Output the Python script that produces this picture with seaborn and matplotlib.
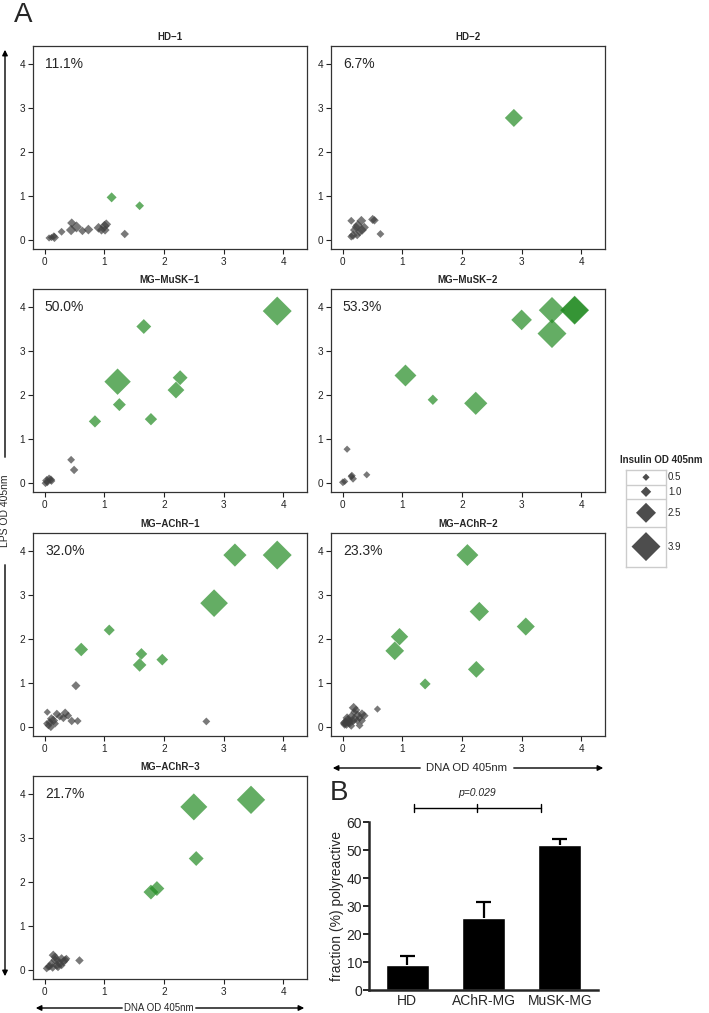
"""Polyreactivity of antibodies: LPS vs DNA ELISA scatter panels (A) and group fractions (B)."""
import matplotlib

matplotlib.use("Agg")
import matplotlib.pyplot as plt
from matplotlib.patches import FancyArrowPatch
import numpy as np
import pandas as pd
import seaborn as sns

sns.set_theme(style="ticks")
plt.rcParams["font.family"] = ["Liberation Sans", "DejaVu Sans"]

# ---- data: DNA OD, LPS OD, insulin OD, polyreactive flag (one entry per antibody)
HD1_DNA = [0.07, 0.11, 0.16, 0.15, 0.28, 0.44, 0.45, 0.53, 0.63, 0.73, 0.90, 0.95, 1.00, 1.01, 1.03, 1.34, 1.12, 1.59]
HD1_LPS = [0.05, 0.06, 0.06, 0.09, 0.19, 0.23, 0.39, 0.30, 0.21, 0.24, 0.28, 0.23, 0.32, 0.23, 0.36, 0.14, 0.97, 0.78]
HD1_INS = [0.5, 0.5, 0.8, 0.6, 0.6, 1.0, 0.8, 1.1, 0.7, 0.9, 0.9, 0.8, 1.0, 0.8, 0.9, 0.7, 0.94, 0.75]
HD1_POLY = [0] * 16 + [1] * 2

HD2_DNA = [0.14, 0.31, 0.50, 0.53, 0.25, 0.36, 0.19, 0.32, 0.17, 0.24, 0.14, 0.63, 0.28, 0.22, 2.87]
HD2_LPS = [0.44, 0.44, 0.47, 0.45, 0.34, 0.29, 0.23, 0.23, 0.11, 0.11, 0.08, 0.14, 0.19, 0.30, 2.77]
HD2_INS = [0.6, 0.9, 0.8, 0.7, 0.9, 0.8, 0.7, 0.9, 0.8, 0.6, 0.6, 0.6, 0.8, 0.7, 2.2]
HD2_POLY = [0] * 14 + [1]

MUSK1_DNA = [0.44, 0.49, 0.03, 0.10, 0.04, 0.07, 0.01, 0.11, 3.90, 1.66, 1.22, 2.27, 2.20, 1.25, 1.78, 0.84]
MUSK1_LPS = [0.53, 0.30, 0.06, 0.08, 0.02, 0.10, 0.00, 0.05, 3.90, 3.55, 2.30, 2.39, 2.11, 1.78, 1.45, 1.40]
MUSK1_INS = [0.6, 0.7, 0.8, 0.7, 0.6, 0.7, 0.6, 0.6, 3.9, 1.7, 3.5, 1.7, 2.0, 1.4, 1.3, 1.3]
MUSK1_POLY = [0] * 8 + [1] * 8

MUSK2_DNA = [0.07, 0.00, 0.15, 0.17, 0.14, 0.40, 0.03, 3.00, 3.51, 3.51, 3.89, 3.89, 1.05, 1.51, 2.23]
MUSK2_LPS = [0.77, 0.02, 0.17, 0.10, 0.15, 0.19, 0.04, 3.70, 3.92, 3.39, 3.92, 3.92, 2.44, 1.89, 1.81]
MUSK2_INS = [0.5, 0.6, 0.6, 0.6, 0.5, 0.5, 0.5, 2.6, 3.5, 3.9, 3.9, 3.7, 2.8, 1.0, 3.0]
MUSK2_POLY = [0] * 7 + [1] * 8

ACHR1_DNA = [0.52, 0.04, 0.20, 0.34, 0.31, 0.25, 0.11, 0.08, 0.14, 0.06, 0.10, 0.45, 0.55, 2.71, 0.03, 0.17, 0.39,
             3.19, 3.90, 2.84, 1.08, 0.61, 1.62, 1.59, 1.97]
ACHR1_LPS = [0.94, 0.34, 0.30, 0.32, 0.21, 0.24, 0.19, 0.11, 0.15, 0.04, 0.00, 0.14, 0.14, 0.13, 0.08, 0.08, 0.26,
             3.90, 3.90, 2.81, 2.20, 1.76, 1.66, 1.41, 1.53]
ACHR1_INS = [0.8, 0.5, 0.7, 0.8, 0.7, 0.6, 0.8, 0.7, 0.9, 0.6, 0.6, 0.7, 0.6, 0.6, 0.5, 0.6, 0.6,
             3.0, 3.9, 3.7, 1.1, 1.5, 1.2, 1.5, 1.2]
ACHR1_POLY = [0] * 17 + [1] * 8

ACHR2_DNA = [0.18, 0.22, 0.32, 0.36, 0.28, 0.19, 0.14, 0.08, 0.04, 0.06, 0.11, 0.17, 0.24, 0.28, 0.03, 0.14, 0.07,
             0.32, 0.25, 0.19, 0.10, 0.02, 0.58, 2.09, 2.29, 3.07, 0.95, 0.87, 2.24, 1.38]
ACHR2_LPS = [0.44, 0.39, 0.30, 0.26, 0.21, 0.19, 0.24, 0.15, 0.11, 0.08, 0.09, 0.14, 0.15, 0.04, 0.06, 0.03, 0.21,
             0.15, 0.28, 0.34, 0.13, 0.09, 0.41, 3.90, 2.62, 2.28, 2.05, 1.73, 1.31, 0.98]
ACHR2_INS = [0.9, 0.7, 0.8, 0.7, 0.6, 0.9, 0.8, 1.0, 0.9, 1.0, 0.8, 0.7, 0.6, 0.6, 0.7, 0.6, 0.8,
             0.6, 0.7, 0.6, 0.9, 0.7, 0.5, 2.8, 2.4, 2.2, 2.1, 2.3, 2.0, 1.1]
ACHR2_POLY = [0] * 23 + [1] * 7

ACHR3_DNA = [0.58, 0.14, 0.17, 0.25, 0.28, 0.08, 0.03, 0.20, 0.11, 0.34, 0.22, 0.06, 0.17, 0.36, 0.31, 0.13, 0.21, 0.28,
             3.46, 2.50, 2.54, 1.78, 1.88]
ACHR3_LPS = [0.22, 0.34, 0.23, 0.15, 0.26, 0.09, 0.04, 0.11, 0.15, 0.23, 0.08, 0.08, 0.30, 0.26, 0.19, 0.06, 0.23, 0.11,
             3.86, 3.70, 2.53, 1.77, 1.85]
ACHR3_INS = [0.7, 0.8, 0.8, 0.8, 0.8, 0.7, 0.6, 0.8, 0.7, 0.7, 0.8, 0.6, 0.7, 0.6, 0.8, 0.7, 0.7, 0.6,
             3.8, 3.6, 1.7, 1.7, 1.7]
ACHR3_POLY = [0] * 18 + [1] * 5

PANEL_TITLES = ["HD\u22121", "HD\u22122", "MG\u2212MuSK\u22121", "MG\u2212MuSK\u22122",
                "MG\u2212AChR\u22121", "MG\u2212AChR\u22122", "MG\u2212AChR\u22123"]

LEGEND_LEVELS = [0.5, 1.0, 2.5, 3.9]

GROUPS = ["HD", "AChR-MG", "MuSK-MG"]
FRACTION = [8.9, 25.7, 51.8]
SEM = [3.2, 5.7, 2.1]

# ---- layout helpers (pixel space of the 709 x 1013 output)
W, H, DPI = 709, 1013, 100
GREEN, GREY = "#228b22", "#404040"


def box(left, top, width, height):
    return [left / W, 1 - (top + height) / H, width / W, height / H]


def fpt(x, y):
    return (x / W, 1 - y / H)


def marker_width_px(v):
    return 4 + 6.4 * np.asarray(v, dtype=float)


def marker_area(v):
    # diamond 'D' of area s has a diagonal of sqrt(2*s) points
    w_pt = marker_width_px(v) * 72 / DPI
    return w_pt ** 2 / 2


A_LO, A_HI = marker_area(0.5), marker_area(3.9)

fig = plt.figure(figsize=(W / DPI, H / DPI), dpi=DPI)

panels = [
    (HD1_DNA, HD1_LPS, HD1_INS, HD1_POLY),
    (HD2_DNA, HD2_LPS, HD2_INS, HD2_POLY),
    (MUSK1_DNA, MUSK1_LPS, MUSK1_INS, MUSK1_POLY),
    (MUSK2_DNA, MUSK2_LPS, MUSK2_INS, MUSK2_POLY),
    (ACHR1_DNA, ACHR1_LPS, ACHR1_INS, ACHR1_POLY),
    (ACHR2_DNA, ACHR2_LPS, ACHR2_INS, ACHR2_POLY),
    (ACHR3_DNA, ACHR3_LPS, ACHR3_INS, ACHR3_POLY),
]
row_tops = [46, 289, 533, 776]
col_lefts = [33, 331]

for i, ((dna, lps, ins, poly), title) in enumerate(zip(panels, PANEL_TITLES)):
    ax = fig.add_axes(box(col_lefts[i % 2], row_tops[i // 2], 274, 203))
    df = pd.DataFrame({"dna": dna, "lps": lps, "area": marker_area(ins),
                       "poly": np.array(poly, dtype=bool)})
    sns.scatterplot(data=df, x="dna", y="lps", hue="poly", palette={False: GREY, True: GREEN},
                    size="area", sizes=(A_LO, A_HI), size_norm=(A_LO, A_HI),
                    marker="D", alpha=0.7, linewidth=0, legend=False, ax=ax)
    ax.set_xlim(-0.2, 4.4)
    ax.set_ylim(-0.2, 4.4)
    ax.set_xticks(range(5))
    ax.set_yticks(range(5))
    ax.set_xlabel("")
    ax.set_ylabel("")
    ax.tick_params(labelsize=7.2, length=3.5, width=0.8, pad=2, colors="#222222")
    for sp in ax.spines.values():
        sp.set_color("#333333")
        sp.set_linewidth(0.9)
    ax.set_title(title, fontsize=7, fontweight="bold", pad=4)
    pct = 100 * df["poly"].mean()
    ax.text(0.0, 4.0, f"{pct:.1f}%", fontsize=10, ha="left", va="center")

# ---- size legend (boxed keys)
widths = marker_width_px(LEGEND_LEVELS)
row_h = np.maximum(14.5, 1.38 * widths)
edges = np.concatenate([[0], np.cumsum(row_h)])
centers = (edges[:-1] + edges[1:]) / 2
lax = fig.add_axes(box(626, 470, 40, edges[-1]))
ldf = pd.DataFrame({"x": 0.5, "y": centers, "area": marker_area(LEGEND_LEVELS)})
sns.scatterplot(data=ldf, x="x", y="y", size="area", sizes=(A_LO, A_HI), size_norm=(A_LO, A_HI),
                marker="D", color="#4d4d4d", linewidth=0, legend=False, ax=lax)
lax.set_xlim(0, 1)
lax.set_ylim(edges[-1], 0)
for e in edges[1:-1]:
    lax.axhline(e, color="#cccccc", lw=1)
for sp in lax.spines.values():
    sp.set_color("#cccccc")
    sp.set_linewidth(1)
lax.set_xticks([])
lax.set_yticks([])
lax.set_xlabel("")
lax.set_ylabel("")
for c, lvl in zip(centers, LEGEND_LEVELS):
    lax.text(1.05, c, f"{lvl:.1f}", transform=lax.get_yaxis_transform(), fontsize=7, va="center")
fig.text(*fpt(620, 460), "Insulin OD 405nm", fontsize=7, fontweight="bold", va="center")

# ---- panel B: bar chart
bax = fig.add_axes(box(369, 822, 229, 168))
bdf = pd.DataFrame({"group": GROUPS, "fraction": FRACTION})
sns.barplot(data=bdf, x="group", y="fraction", color="black", width=0.56, saturation=1, ax=bax)
xpos = np.arange(len(GROUPS))
err_top = np.add(FRACTION, SEM)
bax.vlines(xpos, FRACTION, err_top, color="black", lw=1.6)
bax.hlines(err_top, xpos - 0.1, xpos + 0.1, color="black", lw=1.6)
bax.set_xlim(-0.5, 2.5)
bax.set_ylim(0, 60)
bax.set_yticks(range(0, 61, 10))
bax.set_xlabel("")
bax.set_ylabel("fraction (%) polyreactive", fontsize=10, labelpad=2)
bax.tick_params(axis="y", labelsize=10, length=4, width=1.4, pad=1)
bax.tick_params(axis="x", labelsize=10, length=0, pad=3)
sns.despine(ax=bax)
for sp in ("left", "bottom"):
    bax.spines[sp].set_linewidth(1.8)

# significance bracket
br_y, br_h = 65, 1.3
bax.plot([0.09, 1.75], [br_y, br_y], color="black", lw=1, clip_on=False)
for bx in (0.09, 0.91, 1.75):
    bax.plot([bx, bx], [br_y - br_h, br_y + br_h], color="black", lw=1, clip_on=False)
bax.text(0.91, br_y + 5.5, "p=0.029", fontsize=7.5, style="italic", ha="center", va="center")

# ---- outer axis arrows and panel letters
def arrow(p0, p1):
    fig.add_artist(FancyArrowPatch(fpt(*p0), fpt(*p1), transform=fig.transFigure,
                                   arrowstyle="-|>", mutation_scale=8, lw=1, color="black"))


white = dict(facecolor="white", edgecolor="none", pad=1)

arrow((5, 460), (5, 47))
arrow((5, 562), (5, 979))
fig.text(*fpt(5, 511), "LPS OD 405nm", rotation=90, fontsize=7.5, ha="center", va="center")

arrow((423, 768), (330, 768))
arrow((511, 768), (606, 768))
fig.text(*fpt(467, 768), "DNA OD 405nm", fontsize=8.2, ha="center", va="center", bbox=white)

arrow((125, 1008), (33, 1008))
arrow((193, 1008), (307, 1008))
fig.text(*fpt(159, 1008), "DNA OD 405nm", fontsize=7, ha="center", va="center", bbox=white)

fig.text(*fpt(14, 15), "A", fontsize=20, ha="left", va="center")
fig.text(*fpt(330, 793), "B", fontsize=20, ha="left", va="center")

fig.savefig("out.png", dpi=DPI)
